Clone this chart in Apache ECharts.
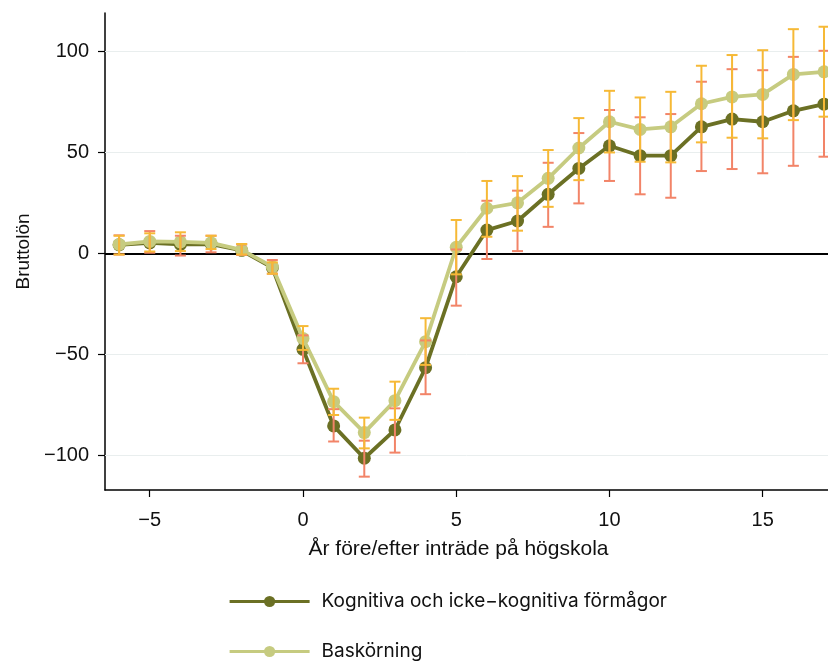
<!DOCTYPE html>
<html>
<head>
<meta charset="utf-8">
<script src="https://cdn.jsdelivr.net/npm/echarts@6/dist/echarts.min.js"></script>
<style>html,body{margin:0;padding:0;background:#fff}#c{width:828px;height:662px}</style>
</head>
<body>
<div id="c"></div>
<script>
const years = [-6,-5,-4,-3,-2,-1,0,1,2,3,4,5,6,7,8,9,10,11,12,13,14,15,16,17];
const kogValues = [4.3,5.3,4.5,4.7,1.5,-7,-47.4,-85.3,-101.3,-87.3,-56.5,-11.5,11.6,16.1,29.3,42.1,53.3,48.4,48.4,62.7,66.5,65.2,70.6,73.9];
const kogLow  = [-0.5,0.4,-1,0.6,-0.7,-10,-54.3,-93,-110.4,-98.5,-69.6,-25.8,-2.7,1.2,13.2,24.8,35.9,29.3,27.6,40.8,41.8,39.7,43.4,47.9];
const kogHigh = [9,11.1,8.8,8.8,4.5,-3.2,-40.5,-77,-92.6,-76.6,-43,2,26.1,31.1,44.9,59.6,71,67.4,69,85,91.2,90.7,97.3,100.3];
const basValues = [4.5,6,5.8,5.3,1.8,-6.5,-42,-73.3,-88.6,-72.8,-43.6,3.1,22.4,25.1,37.2,52.2,65.2,61.4,62.7,74.1,77.5,78.7,88.6,89.9];
const basLow  = [-0.5,1,1.2,2.2,-0.5,-10,-47.7,-79.9,-96.4,-82.3,-55.1,-10.3,8.3,11.3,23.1,36.3,50,45.4,45.1,55,57.3,57,66,67.7];
const basHigh = [8.8,10,10.5,8.8,4.7,-4.4,-35.9,-66.9,-81.2,-63.4,-32,16.6,35.9,38.3,51.2,67,80.5,77.2,80,92.9,98.2,100.6,111,112.2];
const xTicks = [-5,0,5,10,15];
const yTicks = [-100,-50,0,50,100];
const gridValues = [-100,-50,50,100];
const seriesNames = ['Kognitiva och icke\u2212kognitiva förmågor','Baskörning'];
const xTitle = 'År före/efter inträde på högskola';
const yTitle = 'Bruttolön';

const darkCol = '#6b7024';
const lightCol = '#c6cb80';
const redCol = '#f28468';
const goldCol = '#f6b936';

function fmt(v){ return String(v).replace('-', '\u2212'); }

function capSeries(lo, hi, color, z){
  return {
    type: 'custom', z: z, silent: true,
    data: years.map((x,i)=>[x, lo[i], hi[i]]),
    renderItem: function(params, api){
      const x = api.value(0);
      const a = api.coord([x, api.value(1)]);
      const b = api.coord([x, api.value(2)]);
      const w = 5.5;
      const st = {stroke: color, lineWidth: 2};
      return {type:'group', children:[
        {type:'line', shape:{x1:a[0], y1:a[1], x2:b[0], y2:b[1]}, style: st},
        {type:'line', shape:{x1:a[0]-w, y1:a[1], x2:a[0]+w, y2:a[1]}, style: st},
        {type:'line', shape:{x1:b[0]-w, y1:b[1], x2:b[0]+w, y2:b[1]}, style: st}
      ]};
    }
  };
}

const legendBase = {
  orient: 'vertical', left: 228, padding: 0,
  itemWidth: 80, itemHeight: 14,
  lineStyle: {width: 3.2},
  textStyle: {fontFamily: 'Inter', fontSize: 19, color: '#111', padding: [0,0,0,7]}
};

const chart = echarts.init(document.getElementById('c'));
chart.setOption({
  animation: false,
  backgroundColor: '#ffffff',
  grid: {left: 105, right: 0, top: 13, bottom: 172, containLabel: false},
  legend: [
    Object.assign({}, legendBase, {data: [seriesNames[0]], top: 592}),
    Object.assign({}, legendBase, {data: [seriesNames[1]], top: 642})
  ],
  xAxis: {
    type: 'value', min: -6.46, max: 17.13,
    name: xTitle, nameLocation: 'middle', nameGap: 49,
    nameTextStyle: {fontFamily: 'Liberation Sans', fontSize: 21, color: '#111', padding: [0,16,0,0]},
    axisLine: {show: true, onZero: false, lineStyle: {color: '#000', width: 1.5}},
    axisTick: {show: true, customValues: xTicks, length: 7, lineStyle: {color: '#000', width: 1.2}},
    axisLabel: {customValues: xTicks, formatter: fmt, fontFamily: 'Liberation Sans', fontSize: 20, color: '#111', margin: 20},
    splitLine: {show: false}
  },
  yAxis: {
    type: 'value', min: -117, max: 119,
    name: yTitle, nameLocation: 'middle', nameGap: 72, nameRotate: 90,
    nameTextStyle: {fontFamily: 'Liberation Sans', fontSize: 19, color: '#111'},
    axisLine: {show: true, onZero: false, lineStyle: {color: '#000', width: 1.5}},
    axisTick: {show: true, customValues: yTicks, length: 7, lineStyle: {color: '#000', width: 1.2}},
    axisLabel: {customValues: yTicks, formatter: fmt, fontFamily: 'Liberation Sans', fontSize: 20, color: '#111', margin: 16},
    splitLine: {show: false}
  },
  series: [
    {
      name: seriesNames[0], type: 'line', z: 3,
      data: years.map((x,i)=>[x, kogValues[i]]),
      symbol: 'circle', symbolSize: 13,
      lineStyle: {color: darkCol, width: 3.8},
      itemStyle: {color: darkCol},
      markLine: {
        silent: true, symbol: 'none', label: {show: false}, z: 1,
        data: gridValues.map(v=>({yAxis: v, lineStyle: {color: '#e9eeee', width: 1, type: 'solid'}}))
          .concat([{yAxis: 0, lineStyle: {color: '#000', width: 2, type: 'solid'}}])
      }
    },
    {
      name: seriesNames[1], type: 'line', z: 4,
      data: years.map((x,i)=>[x, basValues[i]]),
      symbol: 'circle', symbolSize: 13,
      lineStyle: {color: lightCol, width: 3.8},
      itemStyle: {color: lightCol}
    },
    capSeries(kogLow, kogHigh, redCol, 5),
    capSeries(basLow, basHigh, goldCol, 6)
  ]
});
</script>
</body>
</html>
